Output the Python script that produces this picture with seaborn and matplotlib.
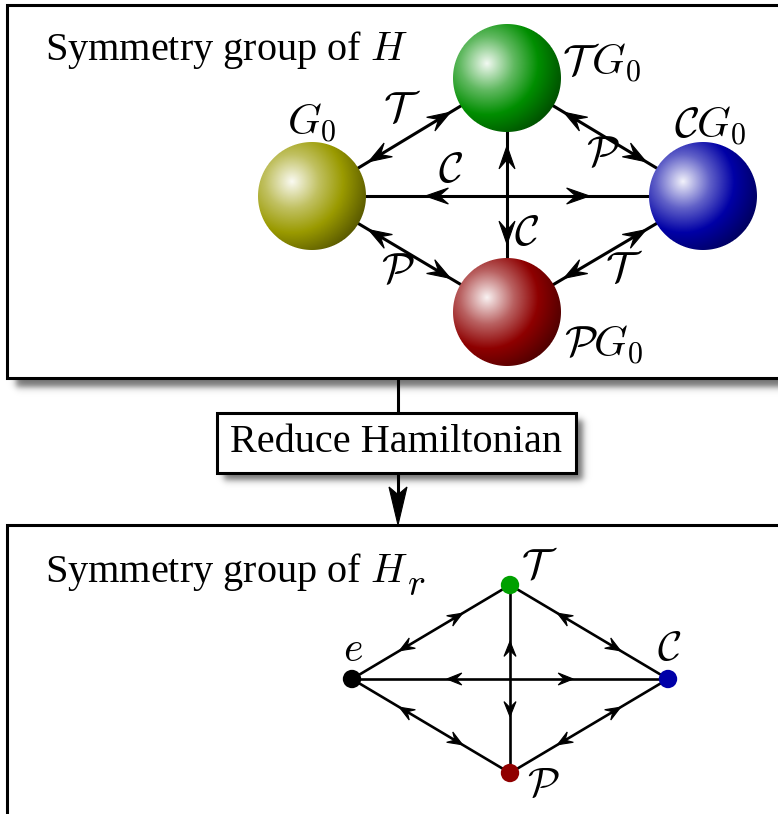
import numpy as np
import matplotlib
matplotlib.use("Agg")
import matplotlib.pyplot as plt
from matplotlib.patches import Rectangle, Polygon
import seaborn as sns
import pandas as pd

# ---------------- data ----------------
top_title = "Symmetry group of $H$"
bottom_title = "Symmetry group of $H$"
bottom_title_sub = "$r$"
step_label = "Reduce Hamiltonian"

sphere_names = ["G0", "TG0", "CG0", "PG0"]
sphere_labels = [r"$G_0$", r"$\mathcal{T}\,G_0$", r"$\mathcal{C}G_0$", r"$\mathcal{P}G_0$"]
sphere_colors = ["#9a9a00", "#008e00", "#0000a6", "#8e0000"]
sphere_dark = ["#5a5a00", "#005000", "#000060", "#500000"]

top_edges = [(0, 1), (1, 2), (0, 2), (1, 3), (0, 3), (3, 2)]
top_edge_labels = [r"$\mathcal{T}$", r"$\mathcal{P}$", r"$\mathcal{C}$",
                   r"$\mathcal{C}$", r"$\mathcal{P}$", r"$\mathcal{T}$"]

node_names = ["e", "T", "C", "P"]
node_labels = [r"$e$", r"$\mathcal{T}$", r"$\mathcal{C}$", r"$\mathcal{P}$"]
node_colors = ["#000000", "#00a000", "#0000a8", "#900000"]
bottom_edges = [(0, 1), (1, 2), (0, 2), (1, 3), (0, 3), (3, 2)]

# ---------------- layout (pixels) ----------------
W, H = 778, 814
sphere_xy = np.array([[312, 196], [507, 78], [703, 196], [507, 312]], float)
sphere_r = 54
sphere_label_xy = [(312, 123, "center"), (562, 63, "left"), (710, 126, "center"), (564, 345, "left")]
top_edge_label_xy = [(402, 111), (603, 156), (451, 172), (527, 235), (398, 273), (624, 271)]
node_xy = np.array([[352, 679], [510, 585], [668, 679], [510, 773]], float)
node_label_xy = [(353, 651), (539, 567), (669, 650), (543, 786)]

sns.set_theme(style="white")
plt.rcParams["font.family"] = ["Liberation Serif", "DejaVu Serif"]
plt.rcParams["mathtext.fontset"] = "cm"
plt.rcParams["text.color"] = "black"

fig = plt.figure(figsize=(W / 100, H / 100), dpi=100)
ax = fig.add_axes([0, 0, 1, 1])
ax.set_xlim(0, W)
ax.set_ylim(H, 0)

# ---------------- shadows ----------------
yy, xx = np.mgrid[0:H, 0:W] + 0.5


def soft(t, s):
    return 0.5 * (1 + np.tanh(t / s))


def shadow(x0, y0, x1, y1, dx=9, dy=9, s=4.0, a=0.55):
    return a * soft(xx - (x0 + dx), s) * soft((x1 + dx) - xx, s) * \
        soft(yy - (y0 + dy), s) * soft((y1 + dy) - yy, s)


top_box = (7, 5, 820, 378)
step_box = (217, 413, 576, 473)
bot_box = (7, 525, 820, 900)

alpha = 1 - (1 - shadow(*top_box)) * (1 - shadow(*step_box, dx=7, dy=7))
img = np.zeros((H, W, 4))
img[..., 3] = alpha
ax.imshow(img, extent=(0, W, H, 0), origin="upper", zorder=0, interpolation="bilinear")

for (x0, y0, x1, y1) in [top_box, step_box, bot_box]:
    ax.add_patch(Rectangle((x0, y0), x1 - x0, y1 - y0, fc="white", ec="black", lw=2.2, zorder=1))

# connector
ax.plot([398, 398], [top_box[3], step_box[1]], color="black", lw=2.2, zorder=0.5)
ax.plot([398, 398], [step_box[3], 500], color="black", lw=2.2, zorder=2)


def head(tip, u, L, Wd, k=0.6, z=3):
    u = np.asarray(u, float)
    u = u / np.hypot(*u)
    n = np.array([-u[1], u[0]])
    tip = np.asarray(tip, float)
    pts = [tip, tip - L * u + Wd * n, tip - k * L * u, tip - L * u - Wd * n]
    ax.add_patch(Polygon(pts, closed=True, fc="black", ec="black", lw=0.8, zorder=z, joinstyle="miter"))


head((398, bot_box[1]), (0, 1), 38, 9, k=0.8)

# ---------------- texts ----------------
ax.text(45, 50, top_title, fontsize=29, ha="left", va="center", zorder=5, color="black")
bt = ax.text(45, 572, bottom_title, fontsize=29, ha="left", va="center", zorder=5, color="black")
ax.text((step_box[0] + step_box[2]) / 2, 443, step_label, fontsize=29, ha="center", va="center",
        zorder=5, color="black")

fig.canvas.draw()
bb = bt.get_window_extent().transformed(ax.transData.inverted())
ax.text(max(bb.x0, bb.x1) - 1, 586, bottom_title_sub, fontsize=27, ha="left", va="center",
        zorder=5, color="black")

# ---------------- top graph ----------------
for (i, j) in top_edges:
    a, b = sphere_xy[i], sphere_xy[j]
    ax.plot([a[0], b[0]], [a[1], b[1]], color="black", lw=2.2, zorder=2, solid_capstyle="butt")
    f = 0.29
    head(a + f * (b - a), a - b, 23, 8)
    head(b + f * (a - b), b - a, 23, 8)

for (x, y, ha), lab in zip(sphere_label_xy, sphere_labels):
    ax.text(x, y, lab, fontsize=31, ha=ha, va="center", zorder=5, color="black")
for (x, y), lab in zip(top_edge_label_xy, top_edge_labels):
    ax.text(x, y, lab, fontsize=31, ha="center", va="center", zorder=5, color="black")


def sphere(cx, cy, R, color, dark):
    c = np.array(matplotlib.colors.to_rgb(color))
    d = np.array(matplotlib.colors.to_rgb(dark))
    w = np.ones(3)
    size = int(2 * R + 4)
    ys, xs = np.mgrid[0:size, 0:size] + 0.5
    ox = oy = size / 2
    dist = np.hypot(xs - ox, ys - oy)
    hx, hy = ox - 0.37 * R, oy - 0.27 * R
    t = np.hypot(xs - hx, ys - hy) / R
    ts = [0, 0.5, 0.95, 1.45]
    cols = [0.05 * c + 0.95 * w, 0.62 * c + 0.38 * w, c, d]
    out = np.zeros((size, size, 4))
    for ch in range(3):
        out[..., ch] = np.interp(t, ts, [cc[ch] for cc in cols])
    out[..., 3] = np.clip(R - dist + 0.5, 0, 1)
    ax.imshow(out, extent=(cx - size / 2, cx + size / 2, cy + size / 2, cy - size / 2),
              origin="upper", zorder=4, interpolation="bilinear")


for (cx, cy), col, dk in zip(sphere_xy, sphere_colors, sphere_dark):
    sphere(cx, cy, sphere_r, col, dk)

# ---------------- bottom graph ----------------
for (i, j) in bottom_edges:
    a, b = node_xy[i], node_xy[j]
    ax.plot([a[0], b[0]], [a[1], b[1]], color="black", lw=1.9, zorder=2)
    f = 0.30
    head(a + f * (b - a), a - b, 15, 6)
    head(b + f * (a - b), b - a, 15, 6)

df = pd.DataFrame({"x": node_xy[:, 0], "y": node_xy[:, 1], "name": node_names})
sns.scatterplot(data=df, x="x", y="y", hue="name", palette=dict(zip(node_names, node_colors)),
                s=175, linewidth=0, legend=False, ax=ax, zorder=6)
for (x, y), lab in zip(node_label_xy, node_labels):
    ax.text(x, y, lab, fontsize=30, ha="center", va="center", zorder=5, color="black")

ax.set_xlim(0, W)
ax.set_ylim(H, 0)
ax.axis("off")
fig.savefig("out.png", dpi=100)
